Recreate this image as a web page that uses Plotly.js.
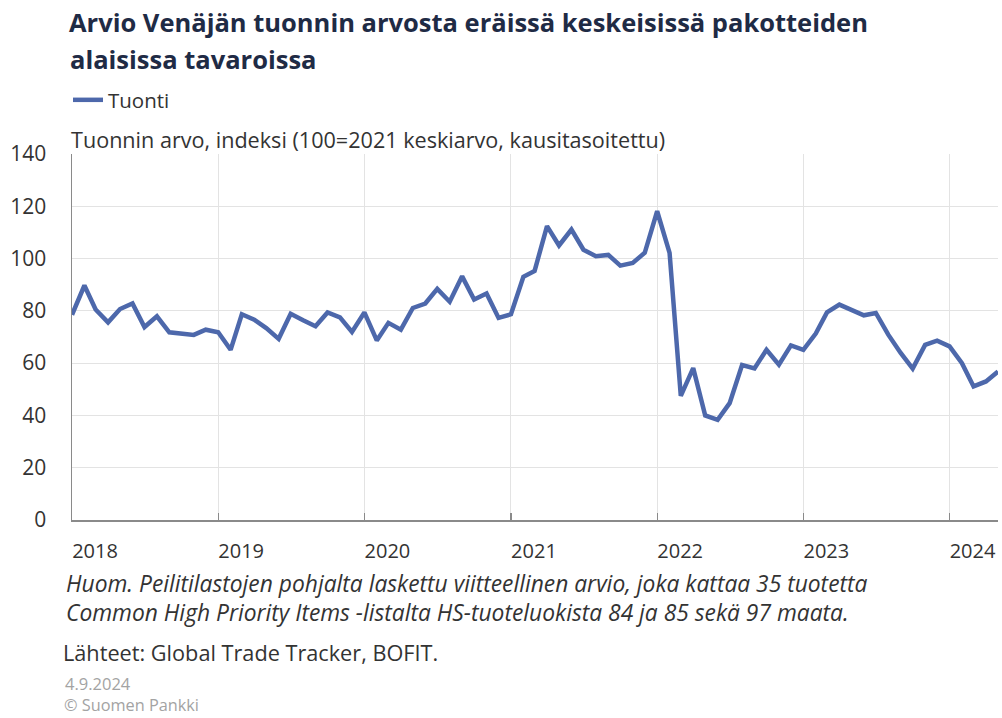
<!DOCTYPE html>
<html>
<head>
<meta charset="utf-8">
<script src="https://cdn.plot.ly/plotly-3.0.1.min.js"></script>
<style>
html,body{margin:0;padding:0;background:#fff;}
#chart{width:1002px;height:718px;}
</style>
</head>
<body>
<div id="chart"></div>
<script>
// Monthly observations (first day of month)
const months = [
  '2018-01-01','2018-02-01','2018-03-01','2018-04-01','2018-05-01','2018-06-01','2018-07-01','2018-08-01','2018-09-01','2018-10-01','2018-11-01','2018-12-01',
  '2019-01-01','2019-02-01','2019-03-01','2019-04-01','2019-05-01','2019-06-01','2019-07-01','2019-08-01','2019-09-01','2019-10-01','2019-11-01','2019-12-01',
  '2020-01-01','2020-02-01','2020-03-01','2020-04-01','2020-05-01','2020-06-01','2020-07-01','2020-08-01','2020-09-01','2020-10-01','2020-11-01','2020-12-01',
  '2021-01-01','2021-02-01','2021-03-01','2021-04-01','2021-05-01','2021-06-01','2021-07-01','2021-08-01','2021-09-01','2021-10-01','2021-11-01','2021-12-01',
  '2022-01-01','2022-02-01','2022-03-01','2022-04-01','2022-05-01','2022-06-01','2022-07-01','2022-08-01','2022-09-01','2022-10-01','2022-11-01','2022-12-01',
  '2023-01-01','2023-02-01','2023-03-01','2023-04-01','2023-05-01','2023-06-01','2023-07-01','2023-08-01','2023-09-01','2023-10-01','2023-11-01','2023-12-01',
  '2024-01-01','2024-02-01','2024-03-01','2024-04-01','2024-05-01'
];

// Tuonti: import value index (100 = 2021 average, seasonally adjusted)
const tuonti = [
  78.5, 89.7, 80.5, 75.6, 80.7, 82.8, 73.8, 77.9, 71.8, 71.3, 70.8, 72.8,
  71.8, 65.1, 78.7, 76.6, 73.4, 69.3, 78.9, 76.4, 74.1, 79.4, 77.5, 71.9,
  79.4, 68.7, 75.4, 72.8, 81.1, 82.8, 88.4, 83.5, 93.2, 84.3, 86.6, 77.3,
  78.7, 93.0, 95.3, 112.4, 105.0, 111.1, 103.4, 100.9, 101.4, 97.3, 98.3, 102.2,
  118.1, 102.2, 47.5, 58.1, 40.0, 38.3, 44.7, 59.3, 58.0, 65.1, 59.4, 66.8,
  65.1, 71.3, 79.4, 82.4, 80.2, 78.3, 79.2, 70.9, 63.9, 57.9, 67.0, 68.6,
  66.4, 60.0, 51.1, 53.0, 56.8
];

const yearTickVals = ['2018-01-01','2019-01-01','2020-01-01','2021-01-01','2022-01-01','2023-01-01','2024-01-01'];
const yearTickText = ['2018','2019','2020','2021','2022','2023','2024'];

const seriesName = 'Tuonti';
const titleLine1 = 'Arvio Venäjän tuonnin arvosta eräissä keskeisissä pakotteiden';
const titleLine2 = 'alaisissa tavaroissa';
const yTitle = 'Tuonnin arvo, indeksi (100=2021 keskiarvo, kausitasoitettu)';
const note1 = 'Huom. Peilitilastojen pohjalta laskettu viitteellinen arvio, joka kattaa 35 tuotetta';
const note2 = 'Common High Priority Items -listalta HS-tuoteluokista 84 ja 85 sekä 97 maata.';
const source = 'Lähteet: Global Trade Tracker, BOFIT.';
const dateText = '4.9.2024';
const copyright = '© Suomen Pankki';

// layout geometry helpers (pixel -> paper)
const L = 72, R = 4, T = 154, B = 198, W = 1002, H = 718;
const PW = W - L - R, PH = H - T - B;
const px = x => (x - L) / PW;
const py = y => (H - B - y) / PH;

const FONT = '"Open Sans", Lato, sans-serif';
const TXT = '#333333';
const NAVY = '#1f2b45';

const trace = {
  x: months, y: tuonti, type: 'scatter', mode: 'lines', name: seriesName,
  line: {color: '#4d68ab', width: 4.5},
  hoverinfo: 'x+y'
};

const layout = {
  width: W, height: H,
  margin: {l: L, r: R, t: T, b: B, autoexpand: false},
  paper_bgcolor: '#fff', plot_bgcolor: '#fff',
  font: {family: FONT, size: 21, color: TXT},
  title: {
    text: '<b>' + titleLine1 + '</b>',
    x: 69 / W, xanchor: 'left', xref: 'container',
    y: 1 - 23 / H, yanchor: 'middle', yref: 'container',
    font: {family: FONT, size: 25.5, color: NAVY}
  },
  showlegend: true,
  legend: {
    xref: 'container', yref: 'container',
    x: 68 / W, xanchor: 'left', y: 1 - 100 / H, yanchor: 'middle',
    font: {family: FONT, size: 20.5, color: TXT},
    bgcolor: 'rgba(0,0,0,0)', borderwidth: 0
  },
  xaxis: {
    type: 'date',
    range: ['2018-01-01', '2024-05-01'],
    tickmode: 'array', tickvals: yearTickVals, ticktext: yearTickText,
    ticklabelshift: 23, ticklabelstandoff: 12,
    showgrid: true, gridcolor: '#e3e3e3', gridwidth: 1,
    ticks: 'inside', ticklen: 7, tickcolor: '#8a8a8a', tickwidth: 1.2,
    showline: true, linecolor: '#8a8a8a', linewidth: 1.5,
    zeroline: false, automargin: false,
    tickfont: {family: FONT, size: 20, color: TXT},
    fixedrange: true
  },
  yaxis: {
    range: [0, 140], tickmode: 'linear', tick0: 0, dtick: 20,
    showgrid: true, gridcolor: '#e3e3e3', gridwidth: 1,
    ticks: '', ticklabelstandoff: 20,
    showline: true, linecolor: '#8a8a8a', linewidth: 1.5,
    zeroline: false, automargin: false,
    tickfont: {family: FONT, size: 21, color: TXT},
    fixedrange: true
  },
  annotations: [
    {text: '<b>' + titleLine2 + '</b>', xref: 'paper', yref: 'paper', x: px(68), y: py(59),
     xanchor: 'left', yanchor: 'middle', showarrow: false, font: {family: FONT, size: 25.5, color: NAVY}},
    {text: yTitle, xref: 'paper', yref: 'paper', x: px(69), y: py(140),
     xanchor: 'left', yanchor: 'middle', showarrow: false, font: {family: FONT, size: 21.6, color: TXT}},
    {text: '<i>' + note1 + '</i>', xref: 'paper', yref: 'paper', x: px(64), y: py(583),
     xanchor: 'left', yanchor: 'middle', showarrow: false, font: {family: FONT, size: 22.8, color: TXT}},
    {text: '<i>' + note2 + '</i>', xref: 'paper', yref: 'paper', x: px(64), y: py(612),
     xanchor: 'left', yanchor: 'middle', showarrow: false, font: {family: FONT, size: 22.8, color: TXT}},
    {text: source, xref: 'paper', yref: 'paper', x: px(61), y: py(652),
     xanchor: 'left', yanchor: 'middle', showarrow: false, font: {family: FONT, size: 21.7, color: TXT}},
    {text: dateText, xref: 'paper', yref: 'paper', x: px(63), y: py(683),
     xanchor: 'left', yanchor: 'middle', showarrow: false, font: {family: FONT, size: 16.5, color: '#a3a3a3'}},
    {text: copyright, xref: 'paper', yref: 'paper', x: px(62), y: py(705),
     xanchor: 'left', yanchor: 'middle', showarrow: false, font: {family: FONT, size: 16.3, color: '#a3a3a3'}}
  ]
};

Plotly.newPlot('chart', [trace], layout, {displayModeBar: false, staticPlot: true});
</script>
</body>
</html>
